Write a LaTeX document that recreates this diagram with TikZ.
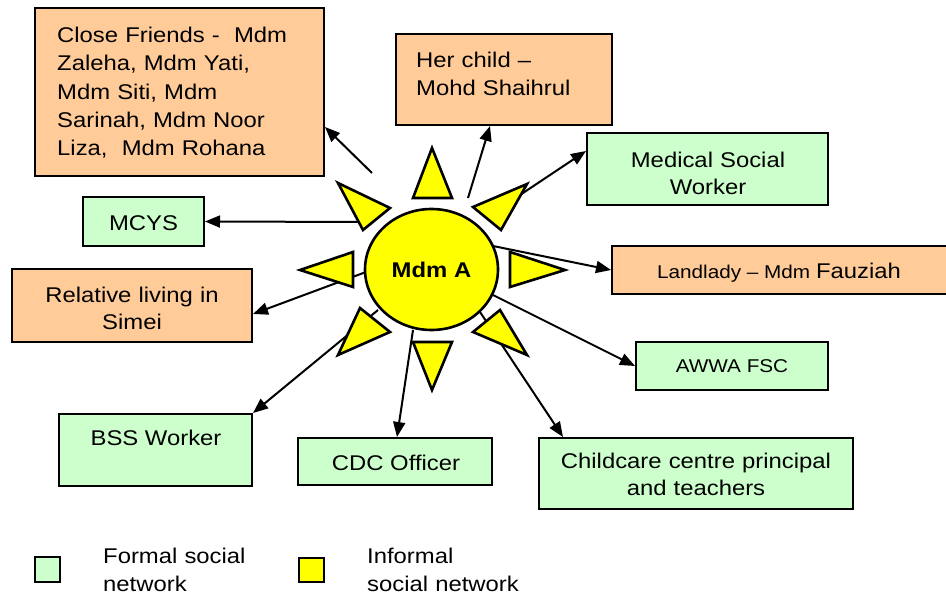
\documentclass[tikz,border=0pt]{standalone}
\usepackage{fontspec}
\setmainfont{Liberation Sans}[FakeStretch=1.12]
\usetikzlibrary{arrows.meta,shapes.geometric}
\definecolor{peach}{HTML}{FFCC99}
\definecolor{mint}{HTML}{CCFFCC}
\definecolor{sunyellow}{HTML}{FFFF00}
\newcommand\mainsz{\fontsize{21.3}{27.5}\selectfont}
\newcommand\smallsz{\fontsize{18.5}{22}\selectfont}
\begin{document}
\begin{tikzpicture}[x=1pt,y=-1pt,
  box/.style={draw, line width=2pt, inner sep=0pt, rectangle},
  formal/.style={box, fill=mint},
  informal/.style={box, fill=peach},
  txt/.style={inner sep=0pt, font=\mainsz},
  conn/.style={line width=2pt, -{Triangle[length=15pt,width=12pt]}},
  ray/.style={draw, line width=2.6pt, fill=sunyellow, line join=miter},
]
\useasboundingbox (0,0) rectangle (946,596);
% boxes
\node[informal, minimum width=289pt, minimum height=168pt] (cf)   at (179.5,92) {};
\node[informal, minimum width=216pt, minimum height=91pt]  (hc)   at (504,79.5) {};
\node[formal,   minimum width=241pt, minimum height=72pt]  (med)  at (707.5,169) {};
\node[formal,   minimum width=121pt, minimum height=49pt]  (mcys) at (143.5,221.5) {};
\node[informal, minimum width=240pt, minimum height=73pt]  (rel)  at (132,305.5) {};
\node[informal, minimum width=338pt, minimum height=48pt]  (ll)   at (781,270) {};
\node[formal,   minimum width=192pt, minimum height=48pt]  (aw)   at (732,366) {};
\node[formal,   minimum width=193pt, minimum height=72pt]  (bss)  at (155.5,450) {};
\node[formal,   minimum width=194pt, minimum height=47pt]  (cdc)  at (395,461.5) {};
\node[formal,   minimum width=314pt, minimum height=71pt]  (cc)   at (696,473.5) {};
% legend squares
\node[formal, minimum width=25pt, minimum height=25pt] (lf) at (47.5,569.5) {};
\node[box, fill=sunyellow, minimum width=25pt, minimum height=24pt] (li) at (311.5,570) {};
% connector start points on the sun
\coordinate (s1) at (372,173);
\coordinate (s2) at (468,198);
\coordinate (s3) at (520,195);
\coordinate (s4) at (365,222);
\coordinate (s5) at (493,246);
\coordinate (s6) at (366,272);
\coordinate (s7) at (493,295);
\coordinate (s8) at (378,310);
\coordinate (s9) at (413,330);
\coordinate (s10) at (480,312);
% connectors
\draw[conn] (s1) -- (cf.east |- 0,127);
\draw[conn] (s2) -- (hc.south -| 490,0);
\draw[conn] (s3) -- (med.west |- 0,151);
\draw[conn] (s4) -- (mcys.east);
\draw[conn] (s5) -- (ll.west);
\draw[conn] (s6) -- (rel.east |- 0,314);
\draw[conn] (s7) -- (aw.west);
\draw[conn] (s8) -- (bss.north east);
\draw[conn] (s9) -- (cdc.north -| 397,0);
\draw[conn] (s10) -- (cc.north -| 563,0);
% sun rays
\draw[ray] (432,148) -- (413,198) -- (452,198) -- cycle;
\draw[ray] (565,270) -- (510,252) -- (510,287) -- cycle;
\draw[ray] (432,390) -- (413,342) -- (452,342) -- cycle;
\draw[ray] (300,270) -- (353,252) -- (353,287) -- cycle;
\draw[ray] (338,183) -- (390,208) -- (363,230) -- cycle;
\draw[ray] (527,184) -- (473,207) -- (501,230) -- cycle;
\draw[ray] (338,355) -- (360,308) -- (390,332) -- cycle;
\draw[ray] (527,355) -- (500,310) -- (473,332) -- cycle;
% sun
\node[ellipse, draw, line width=2.6pt, fill=sunyellow, minimum width=133pt,
      minimum height=121pt, inner sep=0pt, font=\mainsz\bfseries] (A) at (431.5,269.5) {Mdm A};
% texts
\node[txt, anchor=north west, text width=280pt, align=left,
      font=\fontsize{21.3}{28.3}\selectfont] (cfT) at (57,27)
  {Close Friends -\ \ Mdm\\Zaleha, Mdm Yati,\\Mdm Siti, Mdm\\Sarinah, Mdm Noor\\Liza,\ \ Mdm Rohana};
\node[txt, anchor=north west, text width=200pt, align=left,
      font=\fontsize{21.3}{28}\selectfont] (hcT) at (416,52) {Her child --\\Mohd Shaihrul};
\node[txt, anchor=north, text width=230pt, align=center,
      font=\fontsize{21.3}{26.5}\selectfont] (medT) at (708,152) {Medical Social\\Worker};
\node[txt, anchor=base] (mcysT) at (143.5,231) {MCYS};
\node[txt, anchor=north, text width=230pt, align=center,
      font=\fontsize{21.3}{26.5}\selectfont] (relT) at (132,287) {Relative living in\\Simei};
\node[txt, anchor=base] (llT) at (779,279) {\smallsz Landlady -- Mdm \mainsz Fauziah};
\node[txt, anchor=base, font=\smallsz] (awT) at (732,372) {AWWA FSC};
\node[txt, anchor=base] (bssT) at (156,445) {BSS Worker};
\node[txt, anchor=base] (cdcT) at (396,470) {CDC Officer};
\node[txt, anchor=north, text width=310pt, align=center,
      font=\fontsize{21.3}{27}\selectfont] (ccT) at (696,453) {Childcare centre principal\\and teachers};
\node[txt, anchor=north west, text width=180pt, align=left,
      font=\fontsize{21.3}{27.5}\selectfont] (lfT) at (103,548) {Formal social\\network};
\node[txt, anchor=north west, text width=180pt, align=left,
      font=\fontsize{21.3}{27.5}\selectfont] (liT) at (367,548) {Informal\\social network};
\end{tikzpicture}
\end{document}
